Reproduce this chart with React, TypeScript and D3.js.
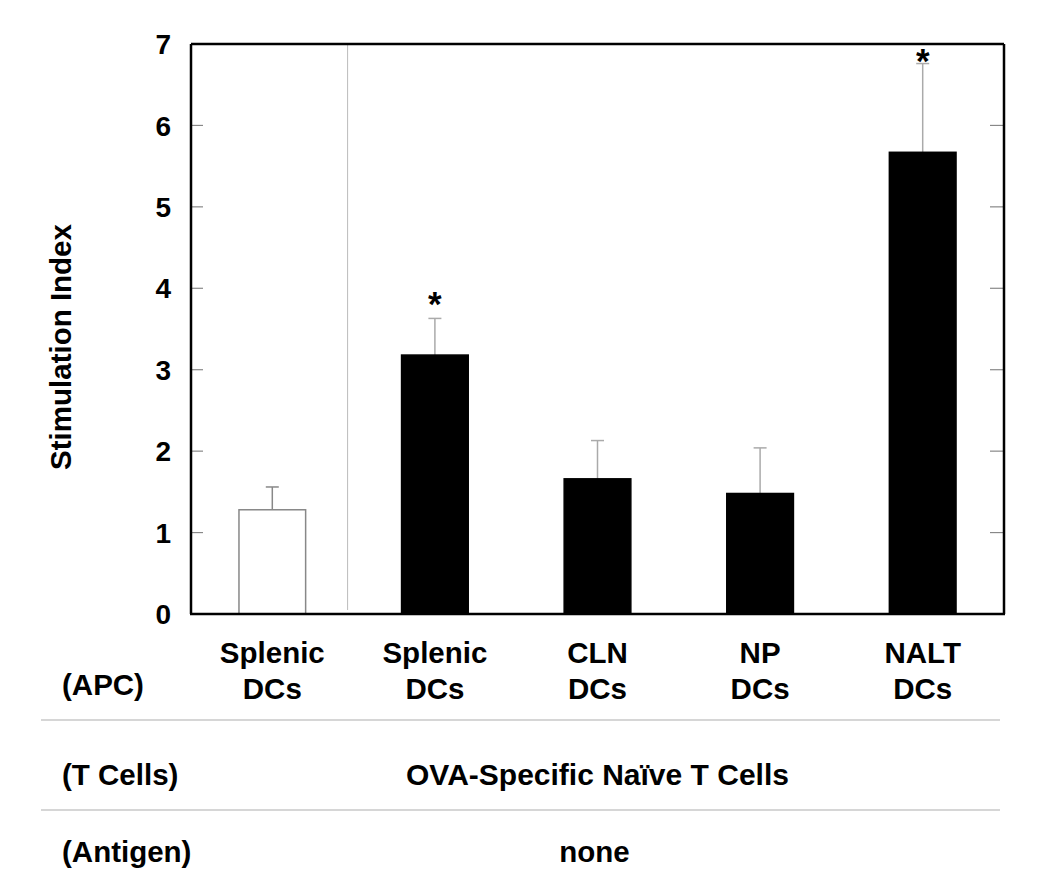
import React from "react";
import * as d3 from "d3";

const categoriesLine1 = ["Splenic", "Splenic", "CLN", "NP", "NALT"];
const categoriesLine2 = ["DCs", "DCs", "DCs", "DCs", "DCs"];
const means = [1.28, 3.18, 1.66, 1.48, 5.67];
const errorTops = [1.56, 3.63, 2.13, 2.04, 6.76];
const barFills = ["white", "black", "black", "black", "black"];
const starValues = [null, 3.66, null, null, 6.64];
const yTicks = [0, 1, 2, 3, 4, 5, 6, 7];
const rowLabels = ["(T Cells)", "(Antigen)"];
const rowValues = ["OVA-Specific Naïve T Cells", "none"];

const W = 1041;
const H = 887;
const left = 191;
const right = 1004;
const top = 44;
const bottom = 614;
const FONT = "'Liberation Sans', Arial, Helvetica, sans-serif";

export default function App() {
  const ids = categoriesLine1.map((_, i) => String(i));
  const x = d3.scaleBand<string>().domain(ids).range([left, right]).paddingInner(0.59).paddingOuter(0.295);
  const y = d3.scaleLinear().domain([0, 7]).range([bottom, top]);
  const bw = x.bandwidth();
  const sepX = (x("0")! + bw + x("1")!) / 2 - 6;
  const midX = (left + right) / 2;

  return (
    <svg width={W} height={H} style={{ position: "absolute", left: 0, top: 0, background: "white" }} fontFamily={FONT} fontWeight="bold">
      {/* separator */}
      <line x1={sepX} x2={sepX} y1={top} y2={bottom - 4} stroke="#bbb" strokeWidth={1} />
      {/* ticks */}
      {yTicks.map((t) => (
        <g key={t}>
          {t > 0 && t < 7 && (
            <>
              <line x1={left} x2={left + 12} y1={y(t)} y2={y(t)} stroke="#888" strokeWidth={1.2} />
              <line x1={right - 14} x2={right} y1={y(t)} y2={y(t)} stroke="#888" strokeWidth={1.2} />
            </>
          )}
          <text x={171} y={y(t)} dy="0.36em" textAnchor="end" fontSize={28} fill="black">{t}</text>
        </g>
      ))}
      {/* bars */}
      {means.map((m, i) => {
        const cx = x(String(i))! + bw / 2;
        return (
          <g key={i}>
            <line x1={cx} x2={cx} y1={y(m)} y2={y(errorTops[i])} stroke={i === 0 ? "#888" : "#aaa"} strokeWidth={1.5} />
            <line x1={cx - 6.5} x2={cx + 6.5} y1={y(errorTops[i])} y2={y(errorTops[i])} stroke={i === 0 ? "#888" : "#aaa"} strokeWidth={1.5} />
            <rect x={x(String(i))!} y={y(m)} width={bw} height={y(0) - y(m)} fill={barFills[i]} stroke={barFills[i] === "white" ? "#888" : "black"} strokeWidth={1.5} />
            {starValues[i] !== null && (
              <text x={cx} y={y(starValues[i] as number)} textAnchor="middle" fontSize={35}>*</text>
            )}
            <text x={cx} y={663} textAnchor="middle" fontSize={29.5}>{categoriesLine1[i]}</text>
            <text x={cx} y={699} textAnchor="middle" fontSize={29.5}>{categoriesLine2[i]}</text>
          </g>
        );
      })}
      {/* frame */}
      <line x1={left} x2={right} y1={top} y2={top} stroke="black" strokeWidth={2.5} />
      <line x1={right} x2={right} y1={top} y2={bottom} stroke="black" strokeWidth={2.5} />
      <line x1={left} x2={left} y1={top} y2={bottom} stroke="black" strokeWidth={2.5} />
      <line x1={left - 1} x2={right + 1} y1={bottom} y2={bottom} stroke="black" strokeWidth={2.5} />
      {/* y title */}
      <text transform={`translate(71,347) rotate(-90)`} textAnchor="middle" fontSize={29.5}>Stimulation Index</text>
      {/* table */}
      <text x={62} y={695} fontSize={29.5}>(APC)</text>
      <line x1={41} x2={1000} y1={720} y2={720} stroke="#c8c8c8" strokeWidth={1.5} />
      <line x1={41} x2={1000} y1={810} y2={810} stroke="#c8c8c8" strokeWidth={1.5} />
      <text x={62} y={785} fontSize={29.5}>{rowLabels[0]}</text>
      <text x={62} y={862} fontSize={29.5}>{rowLabels[1]}</text>
      <text x={midX} y={785} textAnchor="middle" fontSize={30}>{rowValues[0]}</text>
      <text x={midX - 3} y={862} textAnchor="middle" fontSize={29.5}>{rowValues[1]}</text>
    </svg>
  );
}
